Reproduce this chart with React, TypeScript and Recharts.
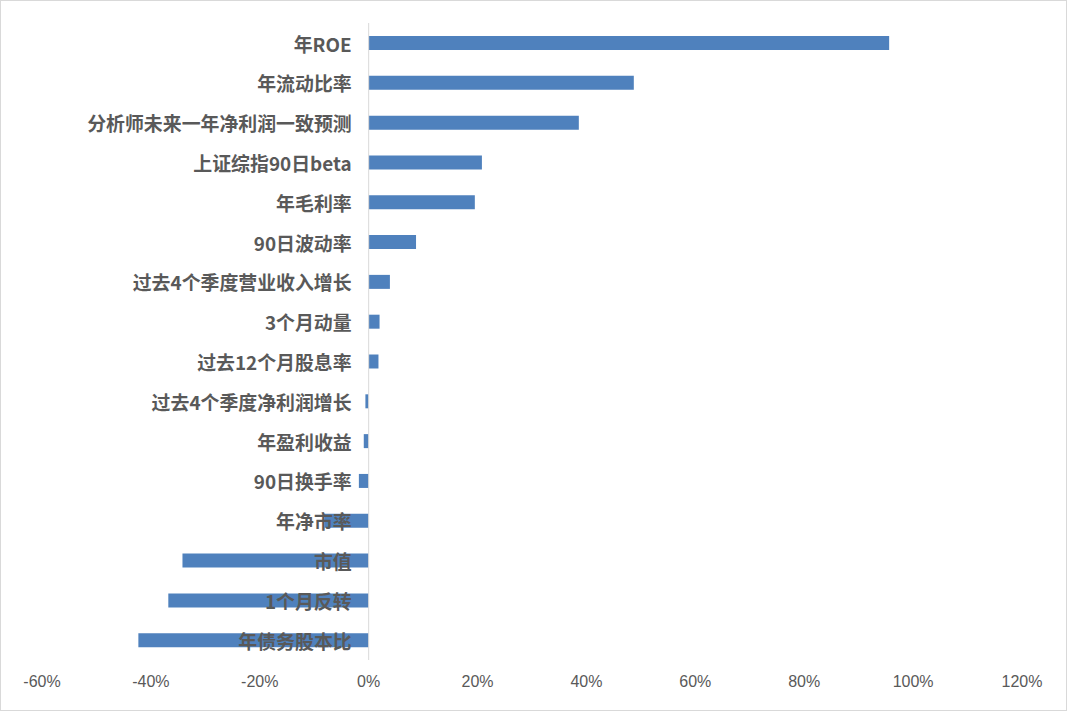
import { Bar, BarChart, LabelList, ReferenceLine, XAxis, YAxis } from 'recharts'

const categories = [
  '年ROE',
  '年流动比率',
  '分析师未来一年净利润一致预测',
  '上证综指90日beta',
  '年毛利率',
  '90日波动率',
  '过去4个季度营业收入增长',
  '3个月动量',
  '过去12个月股息率',
  '过去4个季度净利润增长',
  '年盈利收益',
  '90日换手率',
  '年净市率',
  '市值',
  '1个月反转',
  '年债务股本比'
]

const values = [
  0.956, 0.487, 0.386, 0.208, 0.195, 0.087, 0.039, 0.02, 0.018, -0.006, -0.009, -0.018, -0.081,
  -0.342, -0.368, -0.423
]

const xTicks = [-0.6, -0.4, -0.2, 0, 0.2, 0.4, 0.6, 0.8, 1.0, 1.2]

const data = categories.map((name, i) => ({ name, value: values[i] }))

const textColor = '#595959'

// category name drawn just left of the zero line
function NameLabel(props: any) {
  const vb = props.viewBox ?? props
  const x = vb.x ?? props.x
  const y = vb.y ?? props.y
  const w = vb.width ?? props.width ?? 0
  const h = vb.height ?? props.height ?? 0
  const v = values[props.index]
  const zero = v < 0 ? Math.max(x, x + w) : Math.min(x, x + w)
  return (
    <text
      x={zero - 17}
      y={y + h / 2}
      textAnchor="end"
      dominantBaseline="central"
      fill={textColor}
      fontSize={18.9}
      fontWeight="bold"
      fontFamily='"Noto Sans CJK SC", sans-serif'
    >
      {categories[props.index]}
    </text>
  )
}

export default function App() {
  return (
    <div
      style={{
        position: 'absolute',
        left: 0,
        top: 0,
        width: 1067,
        height: 711,
        border: '1px solid #d9d9d9',
        boxSizing: 'border-box',
        background: '#fff'
      }}
    >
      <BarChart
        width={1065}
        height={709}
        data={data}
        layout="vertical"
        margin={{ top: 22, right: 44, left: 41, bottom: 20 }}
      >
        <XAxis
          type="number"
          domain={[-0.6, 1.2]}
          ticks={xTicks}
          allowDataOverflow
          axisLine={false}
          tickLine={false}
          tickMargin={10}
          height={30}
          interval={0}
          tickFormatter={(v: number) => `${Math.round(v * 100)}%`}
          tick={{ fill: textColor, fontSize: 16, fontFamily: '"Liberation Sans", Arial, sans-serif' }}
        />
        <YAxis type="category" dataKey="name" hide />
        <ReferenceLine x={0} stroke="#d9d9d9" strokeWidth={1} />
        <Bar dataKey="value" fill="#4F81BD" barSize={14} isAnimationActive={false}>
          <LabelList dataKey="value" content={NameLabel} />
        </Bar>
      </BarChart>
    </div>
  )
}
